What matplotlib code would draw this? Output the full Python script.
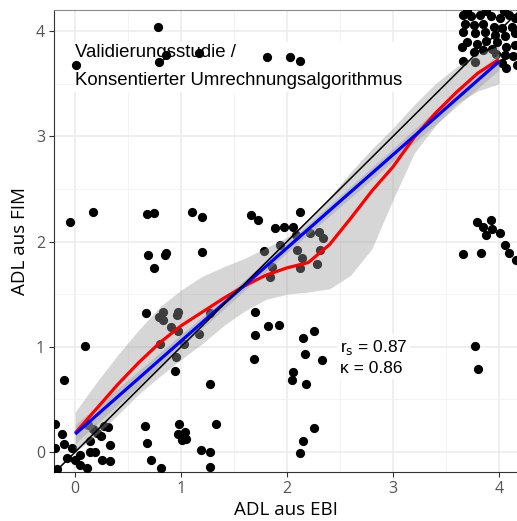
import numpy as np
import matplotlib
matplotlib.use("Agg")
import matplotlib.pyplot as plt
from matplotlib.ticker import MultipleLocator

# ---------- data ----------
pts_x = [
    0.01, 0.78, 0.79, 0.86, 1.17, 1.81, 2.03, 2.12,
    3.66, 3.74, 3.82, 3.92, 4.01, 4.09, 4.15, 3.68, 3.76, 3.85, 3.95, 4.03, 4.12,
    3.66, 3.77, 3.87, 3.96, 4.06, 4.15, 3.70, 3.79, 3.88, 3.98, 4.07, 4.15,
    3.65, 3.76, 3.85, 4.06, 4.13, 3.66, 3.77, 4.03, 4.17, 4.07, 3.93, 3.97,
    3.70, 3.88, 4.05,
    -0.05, 0.17, 0.68, 0.74, 1.10, 1.20, 1.66, 1.73, 0.69, 0.74, 0.85, 0.86, 1.20, 1.78,
    2.12, 1.89, 1.97, 2.06, 1.93, 2.08, 2.22, 2.30, 2.34, 2.31, 2.09, 2.14, 2.28, 1.86,
    1.84, 2.12,
    3.79, 3.92, 3.85, 3.93, 3.88, 4.01, 4.06, 4.09, 4.16, 3.66, 3.83,
    0.67, 0.83, 0.97, 0.79, 0.83, 0.96, 0.90, 0.97, 0.80, 1.17, 1.27, 1.03, 0.95, 0.94,
    1.27, 0.09, -0.11, 1.69,
    1.70, 1.82, 1.92, 1.70, 2.15, 2.25, 2.17, 2.33, 2.06, 2.05, 2.18,
    2.25, 2.15, 2.12, 3.77, 3.80,
    -0.19, -0.12, 0.11, 0.31, 0.27, -0.11, -0.19, -0.03, 0.14, 0.24, 0.19, 0.14, 0.33,
    -0.08, 0.00, 0.05, 0.11, 0.25, 0.33, 0.05, -0.17, 0.12, 0.17, 0.21,
    0.66, 0.68, 0.72, 0.81, 0.98, 0.97, 1.04, 1.01, 1.05, 1.33, 1.19, 1.27, 1.27,
]
pts_y = [
    3.68, 4.04, 3.71, 3.77, 3.79, 3.75, 3.75, 3.72,
    4.15, 4.14, 4.15, 4.14, 4.12, 4.15, 4.12, 4.07, 4.06, 4.07, 4.04, 4.03, 4.04,
    3.99, 3.98, 3.99, 3.96, 3.95, 3.98, 3.90, 3.88, 3.91, 3.90, 3.85, 3.87,
    3.85, 3.80, 3.82, 3.77, 3.76, 3.72, 3.71, 3.70, 3.68, 3.65, 3.83, 3.78,
    4.19, 4.19, 4.19,
    2.19, 2.28, 2.26, 2.27, 2.28, 2.23, 2.25, 2.20, 1.87, 1.75, 1.87, 1.89, 1.90, 1.91,
    2.28, 2.13, 2.14, 2.14, 1.97, 2.06, 2.08, 2.09, 2.03, 1.92, 1.92, 1.84, 1.79, 1.76,
    1.66, 1.75,
    2.19, 2.20, 2.14, 2.12, 2.06, 2.08, 1.97, 1.89, 1.82, 1.88, 1.89,
    1.32, 1.33, 1.33, 1.28, 1.25, 1.30, 1.19, 1.15, 1.03, 1.12, 1.32, 1.03, 0.90, 0.77,
    0.65, 1.01, 0.68, 0.88,
    1.33, 1.20, 1.21, 1.11, 1.08, 1.15, 0.93, 0.87, 0.76, 0.68, 0.65,
    0.23, 0.10, -0.01, 1.01, 0.79,
    0.27, 0.17, 0.27, 0.24, 0.25, 0.08, 0.04, 0.04, 0.10, 0.15, 0.00, 0.00, 0.07,
    -0.06, -0.08, -0.12, -0.15, -0.08, -0.09, -0.03, -0.16, 0.26, 0.22, 0.18,
    0.25, 0.09, -0.08, -0.15, 0.27, 0.17, 0.19, 0.11, 0.12, 0.27, 0.02, 0.00, -0.14,
]

# loess curve and its band
fit_x = [0, 0.2, 0.4, 0.6, 0.8, 1.0, 1.2, 1.4, 1.6, 1.8, 2.0,
         2.2, 2.4, 2.6, 2.8, 3.0, 3.2, 3.4, 3.6, 3.8, 4.0]
loess_y = [0.18, 0.41, 0.64, 0.85, 1.04, 1.20, 1.33, 1.46, 1.58, 1.68, 1.75,
           1.80, 1.97, 2.22, 2.48, 2.71, 2.99, 3.22, 3.42, 3.60, 3.73]
loess_hi = [0.38, 0.66, 0.92, 1.16, 1.38, 1.54, 1.67, 1.76, 1.84, 1.94, 2.04,
            2.20, 2.42, 2.66, 2.88, 3.08, 3.30, 3.50, 3.66, 3.78, 3.86]
loess_lo = [0.00, 0.16, 0.35, 0.55, 0.72, 0.88, 1.03, 1.20, 1.34, 1.45, 1.50,
            1.52, 1.55, 1.68, 1.93, 2.40, 2.84, 3.10, 3.31, 3.43, 3.50]

# linear fit and its band
lin_x = [0, 1, 2, 3, 4]
lin_y = [0.17, 1.055, 1.94, 2.825, 3.71]
lin_lo = [0.08, 0.995, 1.895, 2.765, 3.63]
lin_hi = [0.26, 1.115, 1.985, 2.885, 3.79]

label_study = "Validierungsstudie /\nKonsentierter Umrechnungsalgorithmus"
label_stats = "r$_\\mathrm{s}$ = 0.87\n\u03ba = 0.86"

# ---------- plot ----------
fig = plt.figure(figsize=(5.17, 5.21), dpi=100)
ax = fig.add_axes([54 / 517, 49 / 521, 463 / 517, 462 / 521])

ax.scatter(pts_x, pts_y, s=44, color="black", linewidths=0, zorder=3)

band_col = "#999999"
ax.fill_between(fit_x, loess_lo, loess_hi, color=band_col, alpha=0.4, linewidth=0, zorder=4)
ax.fill_between(lin_x, lin_lo, lin_hi, color=band_col, alpha=0.4, linewidth=0, zorder=4)
ax.plot(fit_x, loess_y, color="red", lw=2.3, zorder=5, solid_capstyle="butt")
ax.plot(lin_x, lin_y, color="blue", lw=2.3, zorder=5, solid_capstyle="butt")
ax.axline((0, 0), slope=1, color="black", lw=1.1, zorder=6)

ax.text(0.0, 3.66, label_study, fontsize=13.4, family="Liberation Sans", va="center",
        ha="left", linespacing=1.85, zorder=2.5,
        bbox=dict(facecolor="white", edgecolor="none", pad=2))
ax.text(2.5, 0.90, label_stats, fontsize=12.5, family="Liberation Sans", va="center",
        ha="left", linespacing=1.3, zorder=2.5,
        bbox=dict(facecolor="white", edgecolor="none", pad=2))

ax.set_xlim(-0.2, 4.17)
ax.set_ylim(-0.19, 4.2)
ax.xaxis.set_major_locator(MultipleLocator(1))
ax.yaxis.set_major_locator(MultipleLocator(1))
ax.xaxis.set_minor_locator(MultipleLocator(0.5))
ax.yaxis.set_minor_locator(MultipleLocator(0.5))
ax.set_axisbelow(True)
ax.grid(which="major", color="#ebebeb", lw=1.1)
ax.grid(which="minor", color="#f2f2f2", lw=0.6)
ax.tick_params(which="minor", length=0)
ax.tick_params(which="major", length=3.5, color="#333333", labelcolor="#555555",
               labelsize=11.5, pad=3)
for lab in ax.get_xticklabels() + ax.get_yticklabels():
    lab.set_family("Open Sans")

ax.spines["right"].set_visible(False)
ax.spines["top"].set_color("#8c8c8c")
ax.spines["left"].set_color("#333333")
ax.spines["bottom"].set_color("#333333")

ax.set_xlabel("ADL aus EBI", fontsize=13.5, family="Open Sans", labelpad=3)
ax.set_ylabel("ADL aus FIM", fontsize=13.5, family="Open Sans", labelpad=5)

fig.savefig("out.png", dpi=100)
